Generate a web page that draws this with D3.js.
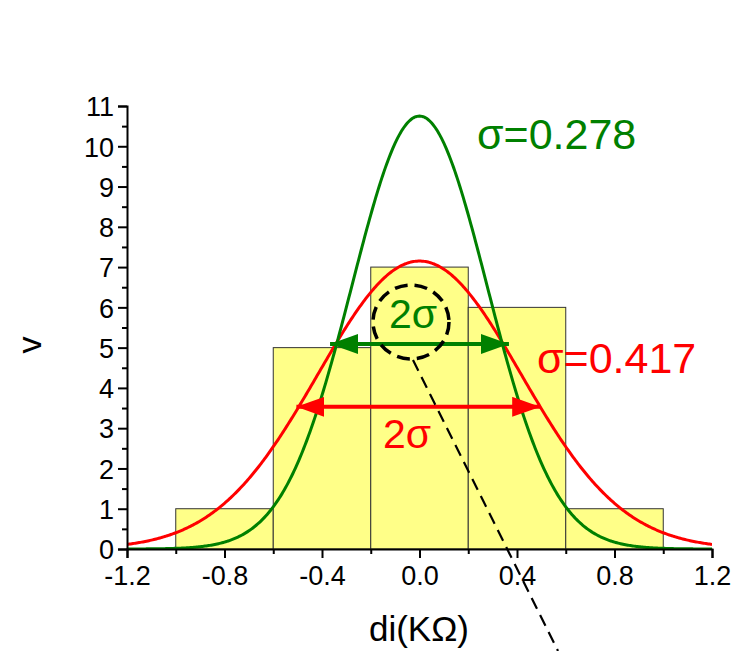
<!DOCTYPE html>
<html>
<head>
<meta charset="utf-8">
<script src="https://cdn.jsdelivr.net/npm/d3@7"></script>
<style>
  body { margin: 0; background: #fff; }
  svg { display: block; font-family: "Liberation Sans", Arial, sans-serif; }
</style>
</head>
<body>
<div id="chart"></div>
<script>
// histogram of d_i, bins 0.4 wide
const binEdges = [-1.0, -0.6, -0.2, 0.2, 0.6, 1.0];
const counts = [1, 5, 7, 6, 1];

// gaussian fits (center, sigma, peak height)
const fitRed = { center: 0, sigma: 0.417, peak: 7.15, color: "#ff0000" };
const fitGreen = { center: 0, sigma: 0.278, peak: 10.75, color: "#008000" };

// tick labels
const xTicks = [-1.2, -0.8, -0.4, 0.0, 0.4, 0.8, 1.2];
const xMinor = [-1.0, -0.6, -0.2, 0.2, 0.6, 1.0];
const yTicks = [0, 1, 2, 3, 4, 5, 6, 7, 8, 9, 10, 11];
const yMinor = [0.5, 1.5, 2.5, 3.5, 4.5, 5.5, 6.5, 7.5, 8.5, 9.5, 10.5];

// 2 sigma arrows (data coords)
const arrowGreen = { x1: -0.367, x2: 0.367, y: 5.09 };
const arrowRed = { x1: -0.505, x2: 0.495, y: 3.53 };

const W = 734, H = 651;
const margin = { left: 127, right: 22, top: 106, bottom: 102 };

const svg = d3.select("#chart").append("svg")
  .attr("width", W).attr("height", H);

svg.append("rect").attr("width", W).attr("height", H).attr("fill", "#fff");

const x = d3.scaleLinear().domain([-1.2, 1.2]).range([margin.left, W - margin.right]);
const y = d3.scaleLinear().domain([0, 11]).range([H - margin.bottom, margin.top]);

const defs = svg.append("defs");
defs.append("clipPath").attr("id", "plotclip")
  .append("rect")
  .attr("x", x(-1.2)).attr("y", 0)
  .attr("width", x(1.2) - x(-1.2)).attr("height", y(0) + 1);

// bars
const bins = counts.map((c, i) => ({ x0: binEdges[i], x1: binEdges[i + 1], n: c }));
svg.append("g").selectAll("rect").data(bins).join("rect")
  .attr("x", d => x(d.x0))
  .attr("y", d => y(d.n))
  .attr("width", d => x(d.x1) - x(d.x0))
  .attr("height", d => y(0) - y(d.n))
  .attr("fill", "#ffff88")
  .attr("stroke", "#333")
  .attr("stroke-width", 1);

// fitted curves
function gauss(f, v) {
  return f.peak * Math.exp(-((v - f.center) ** 2) / (2 * f.sigma * f.sigma));
}
const xs = d3.range(-1.2, 1.2001, 0.005);
const line = d3.line().x(d => x(d[0])).y(d => y(d[1]));
const curves = svg.append("g").attr("clip-path", "url(#plotclip)");
[fitRed, fitGreen].forEach(f => {
  curves.append("path")
    .attr("d", line(xs.map(v => [v, gauss(f, v)])))
    .attr("fill", "none")
    .attr("stroke", f.color)
    .attr("stroke-width", 3);
});

// axes, plain hyphen for negatives like the original
const fmtX = v => d3.format(".1f")(v).replace("−", "-");
const xAxis = svg.append("g").attr("transform", `translate(0,${y(0)})`);
xAxis.call(d3.axisBottom(x).tickValues(xTicks).tickFormat(fmtX).tickSize(9).tickPadding(8));
xAxis.append("g").call(d3.axisBottom(x).tickValues(xMinor).tickFormat("").tickSize(5))
  .select(".domain").remove();

const yAxis = svg.append("g").attr("transform", `translate(${x(-1.2)},0)`);
yAxis.call(d3.axisLeft(y).tickValues(yTicks).tickFormat(d3.format("d")).tickSize(9).tickPadding(4));
yAxis.append("g").call(d3.axisLeft(y).tickValues(yMinor).tickFormat("").tickSize(5))
  .select(".domain").remove();

svg.selectAll(".domain").attr("stroke", "#000").attr("stroke-width", 2);
svg.selectAll(".tick line").attr("stroke", "#000").attr("stroke-width", 2);
svg.selectAll(".tick text").attr("fill", "#000").attr("font-size", 27)
  .attr("font-family", "Liberation Sans, Arial, sans-serif");
xAxis.selectAll(".tick text").attr("dy", "0.72em");
yAxis.selectAll(".tick text").attr("dy", "0.36em");

// axis titles
svg.append("text")
  .attr("x", 419).attr("y", 641)
  .attr("text-anchor", "middle")
  .attr("font-size", 35)
  .text("di(KΩ)");
svg.append("text")
  .attr("transform", "translate(41,345) rotate(-90)")
  .attr("text-anchor", "middle")
  .attr("font-size", 34)
  .text("v");

// arrows
function addArrow(a, color, id) {
  defs.append("marker").attr("id", id)
    .attr("viewBox", "0 0 28 20").attr("refX", 28).attr("refY", 10)
    .attr("markerWidth", 28).attr("markerHeight", 20)
    .attr("markerUnits", "userSpaceOnUse")
    .attr("orient", "auto-start-reverse")
    .append("path").attr("d", "M0,0 L28,10 L0,20 Z").attr("fill", color);
  svg.append("line")
    .attr("x1", x(a.x1)).attr("x2", x(a.x2))
    .attr("y1", y(a.y)).attr("y2", y(a.y))
    .attr("stroke", color).attr("stroke-width", 4)
    .attr("marker-start", `url(#${id})`)
    .attr("marker-end", `url(#${id})`);
}
addArrow(arrowGreen, fitGreen.color, "arrG");
addArrow(arrowRed, fitRed.color, "arrR");

// labels
svg.append("text").attr("x", 413).attr("y", 328).attr("text-anchor", "middle")
  .attr("font-size", 41).attr("fill", fitGreen.color).text("2σ");
svg.append("text").attr("x", 407).attr("y", 448).attr("text-anchor", "middle")
  .attr("font-size", 41).attr("fill", fitRed.color).text("2σ");
svg.append("text").attr("x", 477).attr("y", 149)
  .attr("font-size", 43).attr("fill", fitGreen.color).text("σ=0.278");
svg.append("text").attr("x", 537).attr("y", 373)
  .attr("font-size", 43).attr("fill", fitRed.color).text("σ=0.417");

// dashed circle and pointer line
svg.append("ellipse")
  .attr("cx", 411).attr("cy", 322).attr("rx", 38).attr("ry", 37)
  .attr("fill", "none").attr("stroke", "#000").attr("stroke-width", 3.5)
  .attr("stroke-dasharray", "13,7");
svg.append("line")
  .attr("x1", 413).attr("y1", 360).attr("x2", 558).attr("y2", 651)
  .attr("stroke", "#000").attr("stroke-width", 2.2)
  .attr("stroke-dasharray", "12,7");
</script>
</body>
</html>
